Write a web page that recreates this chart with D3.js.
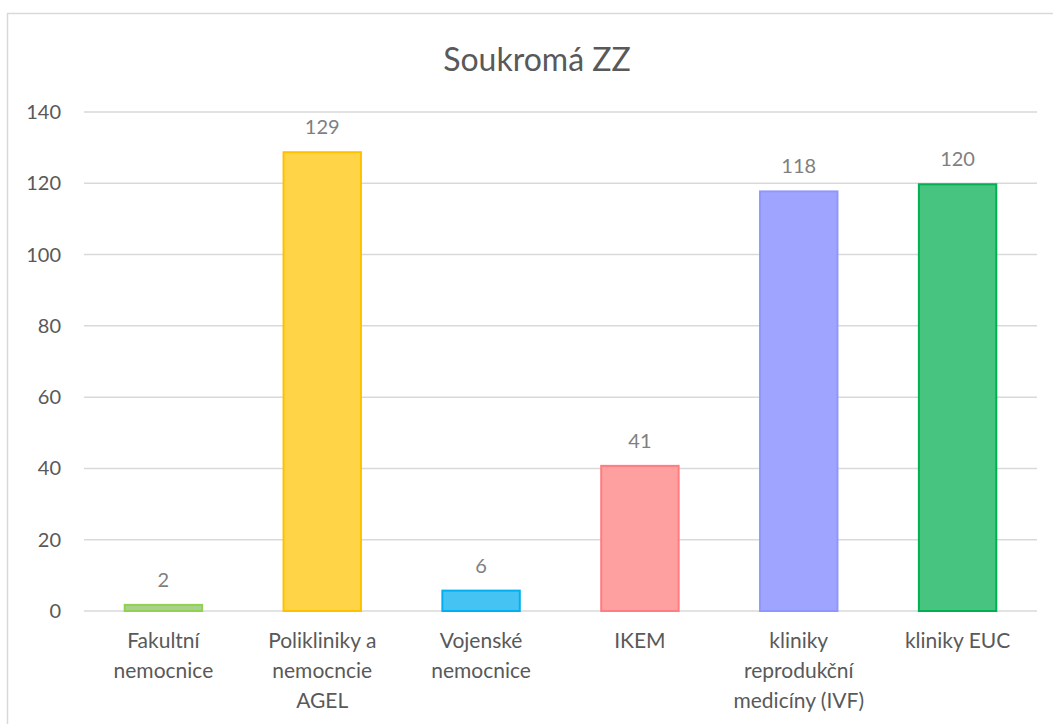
<!DOCTYPE html>
<html>
<head>
<meta charset="utf-8">
<script src="https://cdn.jsdelivr.net/npm/d3@7"></script>
<style>
  body { margin: 0; background: #fff; }
  svg { display: block; font-family: Lato, "Open Sans", sans-serif; }
</style>
</head>
<body>
<svg id="chart" width="1053" height="724"></svg>
<script>
// chart data
var categories = [
  ["Fakultní", "nemocnice"],
  ["Polikliniky a", "nemocncie", "AGEL"],
  ["Vojenské", "nemocnice"],
  ["IKEM"],
  ["kliniky", "reprodukční", "medicíny (IVF)"],
  ["kliniky EUC"]
];
var values = [2, 129, 6, 41, 118, 120];
var fills = ["#a9d18e", "#ffd447", "#45c4f4", "#ffa0a0", "#9fa5ff", "#47c47f"];
var strokes = ["#92d050", "#ffc000", "#00b0f0", "#ff7c80", "#8f97ff", "#00b050"];
var yTicks = [0, 20, 40, 60, 80, 100, 120, 140];

var svg = d3.select("#chart");

// outer frame (only top and left show in the crop)
svg.append("rect")
  .attr("x", 7.5).attr("y", 13.5)
  .attr("width", 1100).attr("height", 800)
  .attr("fill", "none").attr("stroke", "#d9d9d9").attr("stroke-width", 1.5);

svg.append("text")
  .attr("x", 537).attr("y", 71)
  .attr("text-anchor", "middle")
  .attr("font-size", 32)
  .attr("fill", "#595959")
  .text("Soukromá ZZ");

var plotLeft = 84, plotRight = 1037, plotTop = 112, plotBottom = 611;

var x = d3.scaleBand()
  .domain(d3.range(values.length))
  .range([plotLeft, plotRight])
  .paddingInner(0.5).paddingOuter(0.25);

var y = d3.scaleLinear().domain([0, 140]).range([plotBottom, plotTop]);

// gridlines
svg.append("g").selectAll("line")
  .data(yTicks)
  .enter().append("line")
  .attr("x1", plotLeft).attr("x2", plotRight)
  .attr("y1", d => y(d)).attr("y2", d => y(d))
  .attr("stroke", "#d9d9d9").attr("stroke-width", 1.5);

// y labels
svg.append("g").selectAll("text")
  .data(yTicks)
  .enter().append("text")
  .attr("x", 61).attr("y", d => y(d) + 7)
  .attr("text-anchor", "end")
  .attr("font-size", 20)
  .attr("fill", "#595959")
  .text(d => d);

// bars
svg.append("g").selectAll("rect")
  .data(values)
  .enter().append("rect")
  .attr("x", (d, i) => x(i) + 1)
  .attr("width", x.bandwidth() - 2)
  .attr("y", d => y(d) + 1)
  .attr("height", d => Math.max(0, y(0) - y(d) - 1))
  .attr("fill", (d, i) => fills[i])
  .attr("stroke", (d, i) => strokes[i])
  .attr("stroke-width", 2);

// value labels
svg.append("g").selectAll("text")
  .data(values)
  .enter().append("text")
  .attr("x", (d, i) => x(i) + x.bandwidth() / 2)
  .attr("y", d => y(d) - 17)
  .attr("text-anchor", "middle")
  .attr("font-size", 20)
  .attr("fill", "#7f7f7f")
  .text(d => d);

// category labels
var cat = svg.append("g").selectAll("text")
  .data(categories)
  .enter().append("text")
  .attr("text-anchor", "middle")
  .attr("font-size", 21)
  .attr("fill", "#595959");

cat.each(function(lines, i) {
  var t = d3.select(this);
  lines.forEach(function(line, j) {
    t.append("tspan")
      .attr("x", x(i) + x.bandwidth() / 2)
      .attr("y", 648 + j * 30)
      .text(line);
  });
});
</script>
</body>
</html>
